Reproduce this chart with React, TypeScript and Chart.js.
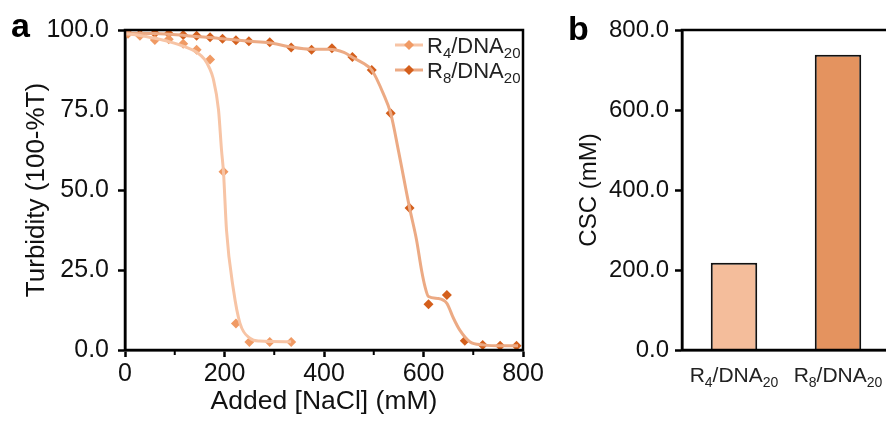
import React, { useEffect, useRef } from "react";
import { Chart, registerables } from "chart.js";

Chart.register(...registerables);

const FONT = "'Liberation Sans', Arial, Helvetica, sans-serif";

// ---- Panel a data ----
const seriesNames = ["R4/DNA20", "R8/DNA20"];
const r4X = [6, 30, 60, 88, 117, 144, 171, 198, 223, 250, 291, 334];
const r4Y = [98.8, 98.2, 96.9, 97.1, 95.7, 93.8, 90.8, 55.7, 8.3, 2.5, 2.5, 2.5];
const r8X = [6, 30, 60, 88, 117, 144, 171, 196, 223, 249, 291, 334, 375, 416, 457, 496, 534, 572, 610, 647, 683, 719, 754, 787];
const r8Y = [99, 98.7, 99, 98.9, 98.4, 98.2, 97.7, 97.3, 96.8, 96.5, 96.2, 94.5, 93.8, 94.3, 91.6, 87.5, 74, 44.4, 14.3, 17.2, 2.9, 1.6, 1.3, 1.3];
// fitted curves
const r4FitX = [0, 30, 60, 90, 120, 145, 160, 170, 177, 188, 194, 198, 204, 218, 231, 251, 270, 334];
const r4FitY = [98.8, 98.3, 97.4, 96.3, 94.8, 93, 90.8, 88, 85, 75, 62.5, 55.5, 37.5, 18.8, 8.4, 3.7, 2.8, 2.6];
const r8FitX = [0, 60, 120, 200, 250, 290, 330, 375, 410, 440, 457, 480, 496, 519, 534, 550, 572, 586, 596, 603, 610, 630, 647, 660, 673, 693, 720, 760, 790];
const r8FitY = [99, 98.9, 98.3, 97.2, 96.5, 96, 94.8, 94, 94, 93, 91.5, 89.5, 87.5, 80.2, 74, 62, 44.4, 34.4, 25, 19.8, 16.7, 16.1, 14.6, 10, 6.2, 2.6, 1.6, 1.3, 1.3];
const xMinorTicks = [100, 300, 500, 700];

// ---- Panel b data ----
const barLabels = ["R4/DNA20", "R8/DNA20"];
const cscValues = [218, 738];

const markerColors = ["#F09A64", "#D45F1C"];
const lineColors = ["#F7C4A5", "#ECAA84"];
const barColors = ["#F4BD9B", "#E4935F"];

const zip = (xs: number[], ys: number[]) => xs.map((x, i) => ({ x, y: ys[i] }));

function drawSubText(ctx: CanvasRenderingContext2D, text: string, x: number, y: number, main: number, sub: number, align: "left" | "center") {
  const parts = text.split(/(\d+)/).filter((p) => p.length > 0);
  const widths = parts.map((p) => {
    const isSub = /^\d+$/.test(p);
    ctx.font = `${isSub ? sub : main}px ${FONT}`;
    return ctx.measureText(p).width;
  });
  const total = widths.reduce((a, b) => a + b, 0);
  let cx = align === "center" ? x - total / 2 : x;
  ctx.textAlign = "left";
  ctx.textBaseline = "alphabetic";
  ctx.fillStyle = "#222";
  parts.forEach((p, i) => {
    const isSub = /^\d+$/.test(p);
    ctx.font = `${isSub ? sub : main}px ${FONT}`;
    ctx.fillText(p, cx, isSub ? y + 5 : y);
    cx += widths[i];
  });
}

function diamond(ctx: CanvasRenderingContext2D, x: number, y: number, r: number, color: string) {
  ctx.beginPath();
  ctx.moveTo(x, y - r);
  ctx.lineTo(x + r, y);
  ctx.lineTo(x, y + r);
  ctx.lineTo(x - r, y);
  ctx.closePath();
  ctx.fillStyle = color;
  ctx.fill();
}

const frameA = {
  id: "frameA",
  afterDraw(chart: any) {
    const { ctx, chartArea: a, scales } = chart;
    ctx.save();
    ctx.strokeStyle = "#000";
    ctx.lineWidth = 2.5;
    ctx.strokeRect(a.left, a.top, a.right - a.left, a.bottom - a.top);
    // minor ticks
    ctx.lineWidth = 2;
    xMinorTicks.forEach((v) => {
      const px = scales.x.getPixelForValue(v);
      ctx.beginPath();
      ctx.moveTo(px, a.bottom);
      ctx.lineTo(px, a.bottom + 5);
      ctx.stroke();
    });
    // legend
    seriesNames.forEach((name, i) => {
      const ly = 45 + i * 25;
      ctx.strokeStyle = lineColors[i];
      ctx.lineWidth = 3;
      ctx.beginPath();
      ctx.moveTo(395, ly);
      ctx.lineTo(423, ly);
      ctx.stroke();
      diamond(ctx, 409, ly, 5, markerColors[i]);
      drawSubText(ctx, name, 427, ly + 8, 22, 15, "left");
    });
    // panel letter
    ctx.fillStyle = "#000";
    ctx.font = `bold 34px ${FONT}`;
    ctx.textAlign = "left";
    ctx.textBaseline = "alphabetic";
    ctx.fillText("a", 11, 37);
    ctx.restore();
  },
};

const frameB = {
  id: "frameB",
  afterDraw(chart: any) {
    const { ctx, chartArea: a, scales } = chart;
    ctx.save();
    ctx.strokeStyle = "#000";
    ctx.lineWidth = 2.5;
    ctx.strokeRect(a.left, a.top, a.right - a.left, a.bottom - a.top);
    barLabels.forEach((lab, i) => {
      const px = scales.x.getPixelForValue(i);
      drawSubText(ctx, lab, px, 382, 21, 14, "center");
    });
    ctx.fillStyle = "#000";
    ctx.font = `bold 34px ${FONT}`;
    ctx.textAlign = "left";
    ctx.textBaseline = "alphabetic";
    ctx.fillText("b", 8, 40);
    ctx.restore();
  },
};

export default function App() {
  const refA = useRef<HTMLCanvasElement>(null);
  const refB = useRef<HTMLCanvasElement>(null);

  useEffect(() => {
    Chart.defaults.font.family = FONT;
    const tickFont = { size: 25, family: FONT };
    const chartA = new Chart(refA.current!, {
      type: "scatter",
      data: {
        datasets: [
          {
            data: zip(r4FitX, r4FitY),
            showLine: true,
            borderColor: lineColors[0],
            borderWidth: 3,
            pointRadius: 0,
            cubicInterpolationMode: "monotone",
          },
          {
            data: zip(r8FitX, r8FitY),
            showLine: true,
            borderColor: lineColors[1],
            borderWidth: 3,
            pointRadius: 0,
            cubicInterpolationMode: "monotone",
          },
          {
            label: seriesNames[0],
            data: zip(r4X, r4Y),
            pointStyle: "rectRot",
            pointRadius: 5,
            backgroundColor: markerColors[0],
            borderColor: markerColors[0],
            borderWidth: 0,
          },
          {
            label: seriesNames[1],
            data: zip(r8X, r8Y),
            pointStyle: "rectRot",
            pointRadius: 5,
            backgroundColor: markerColors[1],
            borderColor: markerColors[1],
            borderWidth: 0,
          },
        ] as any,
      },
      options: {
        animation: false,
        responsive: false,
        devicePixelRatio: 1,
        layout: { padding: { top: 30, right: 37, left: 0, bottom: 0 } },
        plugins: { legend: { display: false }, tooltip: { enabled: false } },
        scales: {
          x: {
            type: "linear",
            min: 0,
            max: 800,
            afterFit: (s: any) => {
              s.height = 71;
            },
            ticks: { stepSize: 200, font: tickFont, color: "#111", padding: 2, maxRotation: 0 },
            grid: { drawOnChartArea: false, tickLength: 7, tickWidth: 2.5, tickColor: "#000" },
            border: { color: "#000", width: 2.5 },
            title: { display: true, text: "Added [NaCl] (mM)", font: { size: 26.5, family: FONT }, color: "#111", padding: { top: 0, bottom: 3 } },
          },
          y: {
            min: 0,
            max: 100,
            afterFit: (s: any) => {
              s.width = 125;
            },
            ticks: { stepSize: 25, font: tickFont, color: "#111", padding: 9, callback: (v: any) => Number(v).toFixed(1) },
            grid: { drawOnChartArea: false, tickLength: 7, tickWidth: 2.5, tickColor: "#000" },
            border: { color: "#000", width: 2.5 },
            title: { display: true, text: "Turbidity (100-%T)", font: { size: 26, family: FONT }, color: "#111", padding: { top: 21, bottom: 0 } },
          },
        },
      } as any,
      plugins: [frameA],
    });

    const chartB = new Chart(refB.current!, {
      type: "bar",
      data: {
        labels: barLabels,
        datasets: [
          {
            data: cscValues,
            backgroundColor: barColors,
            borderColor: "#111",
            borderWidth: 2,
            categoryPercentage: 1,
            barPercentage: 0.447,
          },
        ],
      },
      options: {
        animation: false,
        responsive: false,
        devicePixelRatio: 1,
        layout: { padding: { top: 30, right: 10, left: 0, bottom: 0 } },
        plugins: { legend: { display: false }, tooltip: { enabled: false } },
        scales: {
          x: {
            afterFit: (s: any) => {
              s.height = 71;
            },
            ticks: { display: false },
            grid: { display: false },
            border: { color: "#000", width: 2.5 },
          },
          y: {
            min: 0,
            max: 800,
            afterFit: (s: any) => {
              s.width = 122;
            },
            ticks: { stepSize: 200, font: { size: 24, family: FONT }, color: "#111", padding: 6, callback: (v: any) => Number(v).toFixed(1) },
            grid: { drawOnChartArea: false, tickLength: 7, tickWidth: 2.5, tickColor: "#000" },
            border: { color: "#000", width: 2.5 },
            title: { display: true, text: "CSC (mM)", font: { size: 24, family: FONT }, color: "#111", padding: { top: 15, bottom: 0 } },
          },
        },
      } as any,
      plugins: [frameB],
    });

    return () => {
      chartA.destroy();
      chartB.destroy();
    };
  }, []);

  return (
    <div style={{ position: "fixed", left: 0, top: 0, width: 886, height: 421, overflow: "hidden", background: "#fff" }}>
      <canvas ref={refA} width={560} height={421} style={{ position: "absolute", left: 0, top: 0 }} />
      <canvas ref={refB} width={340} height={421} style={{ position: "absolute", left: 560, top: 0 }} />
    </div>
  );
}
